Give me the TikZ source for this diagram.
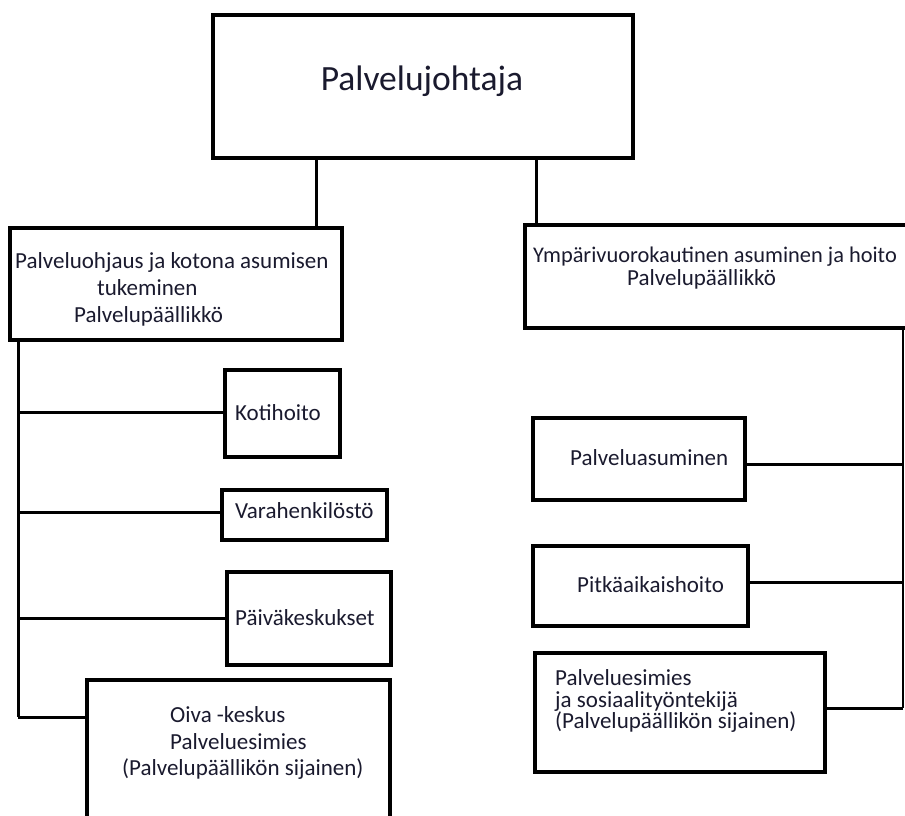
\documentclass[tikz,border=0pt]{standalone}
\usepackage{fontspec}
\setmainfont{Carlito}
\definecolor{txt}{HTML}{1A1A2E}
\begin{document}
\begin{tikzpicture}[x=1pt,y=-1pt,
  box/.style={draw=black, line width=4pt, inner sep=0pt},
  conn/.style={draw=black, line width=3pt},
  thinconn/.style={draw=black, line width=2.2pt},
  lbl/.style={anchor=base west, inner sep=0pt, text=txt, font=\fontsize{23}{27}\selectfont},
]
\useasboundingbox (0,0) rectangle (905,816);
% boxes
\node[box, minimum width=420pt, minimum height=143pt] (top) at (423,86.5) {};
\node[box, minimum width=332pt, minimum height=112pt] (l1) at (176,284) {};
\node[box, minimum width=383pt, minimum height=103pt] (r1) at (716.5,276.5) {};
\node[box, minimum width=115pt, minimum height=87pt] (kot) at (282.5,413.5) {};
\node[box, minimum width=165pt, minimum height=50pt] (vara) at (304.5,515) {};
\node[box, minimum width=164pt, minimum height=93pt] (paiva) at (309,618.5) {};
\node[box, minimum width=303pt, minimum height=150pt] (oiva) at (238.5,755) {};
\node[box, minimum width=212pt, minimum height=82pt] (pasu) at (639,459) {};
\node[box, minimum width=215pt, minimum height=80pt] (pitk) at (640.5,586) {};
\node[box, minimum width=290pt, minimum height=119pt] (pes) at (680,712.5) {};
% texts
\node[anchor=base, inner sep=0pt, text=txt, font=\fontsize{35.5}{42}\selectfont] (toptxt) at (422,91) {Palvelujohtaja};
\node[lbl] (l1a) at (15,268) {Palveluohjaus ja kotona asumisen};
\node[lbl] (l1b) at (97,295) {tukeminen};
\node[lbl] (l1c) at (74,322) {Palvelupäällikkö};
\node[lbl, font=\fontsize{22.4}{27}\selectfont] (r1a) at (533,262) {Ympärivuorokautinen asuminen ja hoito};
\node[lbl] (r1b) at (627,285) {Palvelupäällikkö};
\node[lbl] (kott) at (235,420) {Kotihoito};
\node[lbl] (varat) at (235,518) {Varahenkilöstö};
\node[lbl] (paivat) at (235,625) {Päiväkeskukset};
\node[lbl] (oivaa) at (170,722) {Oiva -keskus};
\node[lbl] (oivab) at (170,749) {Palveluesimies};
\node[lbl] (oivac) at (122,775) {(Palvelupäällikön sijainen)};
\node[lbl] (pasut) at (570,465) {Palveluasuminen};
\node[lbl] (pitkt) at (577,592) {Pitkäaikaishoito};
\node[lbl] (pesa) at (555,685) {Palveluesimies};
\node[lbl] (pesb) at (555,707) {ja sosiaalityöntekijä};
\node[lbl] (pesc) at (555,728) {(Palvelupäällikön sijainen)};
% connectors from top
\coordinate (cl) at (316,0);
\coordinate (cr) at (536,0);
\draw[conn] (top.south -| cl) -- (l1.north -| cl);
\draw[conn] (top.south -| cr) -- (r1.north -| cr);
% left trunk
\coordinate (lb) at (18,717);
\draw[conn] (l1.south -| lb) -- (lb);
\coordinate (b1) at (0,412);
\coordinate (b2) at (0,512);
\coordinate (b3) at (0,618);
\draw[conn] (lb |- b1) -- (kot.west |- b1);
\draw[conn] (lb |- b2) -- (vara.west |- b2);
\draw[conn] (lb |- b3) -- (paiva.west |- b3);
\draw[conn] (lb) -- (oiva.west |- lb);
% right trunk
\coordinate (rb) at (903,708);
\draw[thinconn] (r1.south -| rb) -- (rb);
\coordinate (c1) at (0,464);
\coordinate (c2) at (0,582);
\draw[conn] (pasu.east |- c1) -- (rb |- c1);
\draw[conn] (pitk.east |- c2) -- (rb |- c2);
\draw[conn] (pes.east |- rb) -- (rb);
\end{tikzpicture}
\end{document}
